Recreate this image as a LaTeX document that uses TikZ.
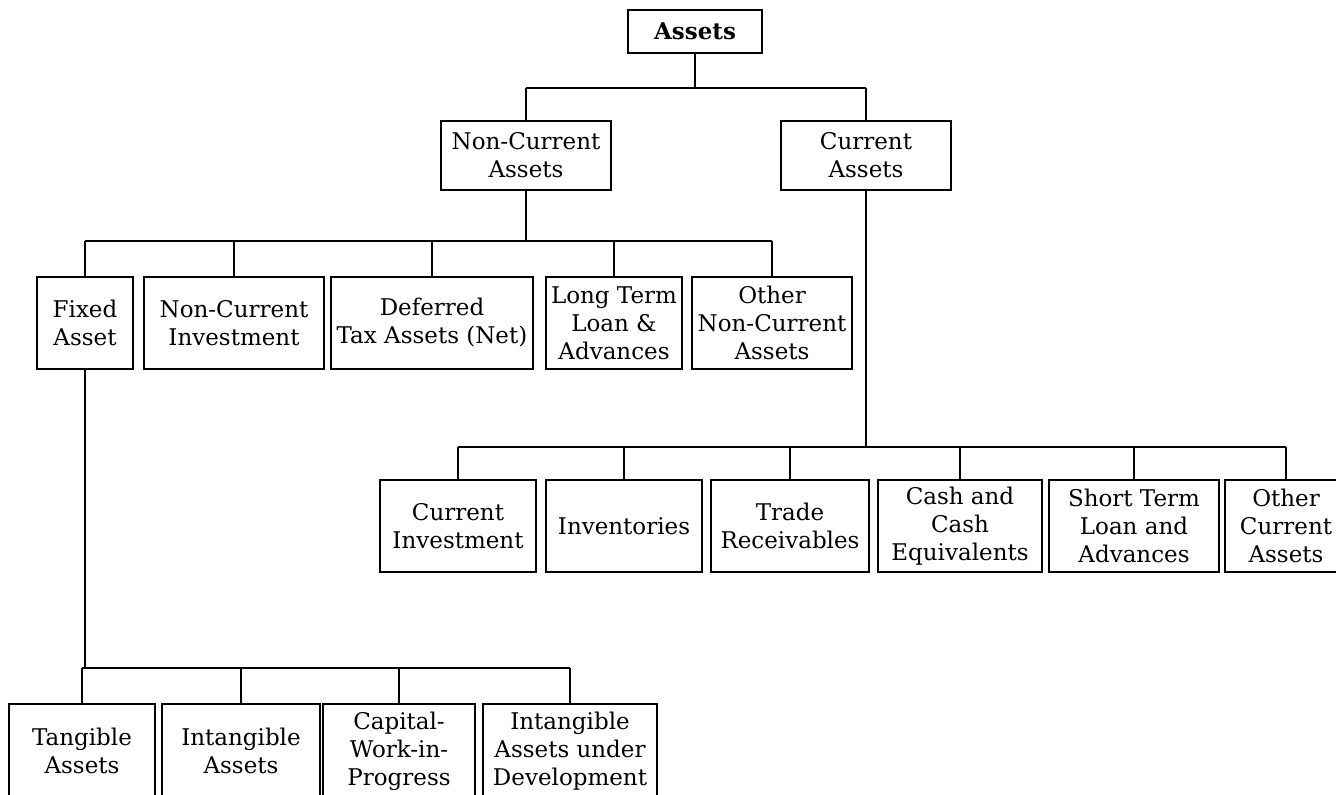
\documentclass[tikz,border=0pt]{standalone}
\usepackage{fontspec}
\setmainfont{DejaVu Serif}
\begin{document}
\begin{tikzpicture}[x=0.5pt,y=-0.5pt,
  box/.style={draw, line width=1pt, inner sep=0pt, align=center,
    font=\fontsize{11.5}{14}\selectfont},
  sz/.style 2 args={minimum width=#1*0.5pt, minimum height=#2*0.5pt},
  conn/.style={line width=1pt}]
\useasboundingbox (0,0) rectangle (1336,794);
\fill[white] (0,0) rectangle (1336,794);

% level 0
\node[box, sz={134}{43}] (assets) at (695,31.5) {\textbf{Assets}};
% level 1
\node[box, sz={170}{69}] (nca) at (526,155.5) {Non-Current\\Assets};
\node[box, sz={170}{69}] (ca) at (866,155.5) {Current\\Assets};
% level 2 (non-current)
\node[box, sz={96}{92}]  (fixed) at (85,323) {Fixed\\Asset};
\node[box, sz={180}{92}] (ncinv) at (234,323) {Non-Current\\Investment};
\node[box, sz={202}{92}] (dta) at (432,323) {Deferred\\Tax Assets (Net)};
\node[box, sz={136}{92}] (ltl) at (614,323) {Long Term\\Loan \&\\Advances};
\node[box, sz={160}{92}] (onca) at (772,323) {Other\\Non-Current\\Assets};
% level 2 (current)
\node[box, sz={156}{92}] (cinv) at (458,526) {Current\\Investment};
\node[box, sz={156}{92}] (inv) at (624,526) {Inventories};
\node[box, sz={158}{92}] (tr) at (790,526) {Trade\\Receivables};
\node[box, sz={164}{92}] (cce) at (960,526) {Cash and\\Cash\\Equivalents};
\node[box, sz={170}{92}] (stl) at (1134,526) {Short Term\\Loan and\\Advances};
\node[box, sz={122}{92}] (oca) at (1286,526) {Other\\Current\\Assets};
% level 3 (fixed assets)
\node[box, sz={146}{94}] (tang) at (82,751) {Tangible\\Assets};
\node[box, sz={158}{94}] (intang) at (241,751) {Intangible\\Assets};
\node[box, sz={152}{94}] (cwip) at (399,751) {Capital-\\Work-in-\\Progress};
\node[box, sz={174}{94}] (iaud) at (570,751) {Intangible\\Assets under\\Development};

% bus levels
\coordinate (b1) at (0,88);
\coordinate (b2) at (0,241);
\coordinate (b3) at (0,447);
\coordinate (b4) at (0,668);

% Assets -> NCA, CA
\draw[conn] (assets.south) -- (assets.south |- b1);
\draw[conn] (nca.north |- b1) -- (ca.north |- b1);
\draw[conn] (nca.north) -- (nca.north |- b1);
\draw[conn] (ca.north) -- (ca.north |- b1);

% NCA -> row 2
\draw[conn] (nca.south) -- (nca.south |- b2);
\draw[conn] (fixed.north |- b2) -- (onca.north |- b2);
\foreach \n in {fixed,ncinv,dta,ltl,onca}
  \draw[conn] (\n.north) -- (\n.north |- b2);

% CA -> row 3
\draw[conn] (ca.south) -- (ca.south |- b3);
\draw[conn] (cinv.north |- b3) -- (oca.north |- b3);
\foreach \n in {cinv,inv,tr,cce,stl,oca}
  \draw[conn] (\n.north) -- (\n.north |- b3);

% Fixed -> row 4
\draw[conn] (fixed.south) -- (fixed.south |- b4);
\draw[conn] (tang.north |- b4) -- (iaud.north |- b4);
\foreach \n in {tang,intang,cwip,iaud}
  \draw[conn] (\n.north) -- (\n.north |- b4);
\end{tikzpicture}
\end{document}
